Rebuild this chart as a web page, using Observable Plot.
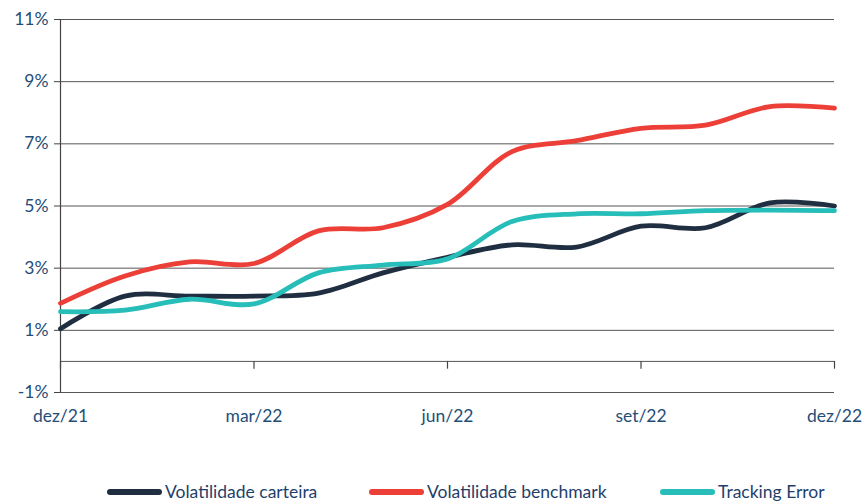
<!DOCTYPE html>
<html>
<head>
<meta charset="utf-8">
<script src="https://cdn.jsdelivr.net/npm/d3@7"></script>
<script src="https://cdn.jsdelivr.net/npm/@observablehq/plot@0.6"></script>
<style>
  body { margin: 0; background: #fff; font-family: Lato, "Open Sans", sans-serif; }
  #chart { width: 863px; }
  .legend { position: relative; height: 62px; font-size: 17.5px; color: #1f3f6b; }
  .item { position: absolute; top: 41px; display: flex; align-items: center; white-space: nowrap; }
  .sw { display: inline-block; width: 55px; height: 6px; border-radius: 3px; margin-right: 3px; }
</style>
</head>
<body>
<div id="chart"></div>
<script>
const months = ["dez/21","jan/22","fev/22","mar/22","abr/22","mai/22","jun/22","jul/22","ago/22","set/22","out/22","nov/22","dez/22"];
const carteira  = [1.05, 2.1, 2.1, 2.1, 2.2, 2.85, 3.35, 3.75, 3.68, 4.35, 4.3, 5.1, 5.0];
const benchmark = [1.87, 2.75, 3.2, 3.15, 4.2, 4.3, 5.05, 6.75, 7.1, 7.5, 7.6, 8.2, 8.15];
const tracking  = [1.6, 1.65, 2.0, 1.85, 2.85, 3.1, 3.3, 4.5, 4.75, 4.75, 4.85, 4.87, 4.85];
const seriesNames = ["Volatilidade carteira", "Volatilidade benchmark", "Tracking Error"];
const colors = ["#1f2e40", "#ec3f37", "#27bdb9"];
const yTicks = [-1, 1, 3, 5, 7, 9, 11];
const xTickIdx = [0, 3, 6, 9, 12];

const seriesVals = [carteira, benchmark, tracking];
const data = [];
seriesVals.forEach((vals, s) => vals.forEach((v, i) => data.push({i, v, s: seriesNames[s]})));

const labelColor = "#1f4e79";
const chart = Plot.plot({
  width: 863,
  height: 440,
  marginTop: 19,
  marginBottom: 48,
  marginLeft: 60,
  marginRight: 29,
  style: { fontFamily: "Lato, 'Open Sans', sans-serif", fontSize: "17.5px", color: labelColor, background: "#fff" },
  x: { type: "linear", domain: [0, 12] },
  y: { domain: [-1, 11] },
  color: { domain: seriesNames, range: colors },
  marks: [
    Plot.ruleY(yTicks, { stroke: "#555", strokeWidth: 1 }),
    Plot.ruleY([0], { stroke: "#555", strokeWidth: 1 }),
    Plot.ruleX([0], { stroke: "#444", strokeWidth: 1.2 }),
    Plot.ruleX(xTickIdx, { y1: 0, y2: -0.25, stroke: "#444", strokeWidth: 1.2 }),
    Plot.axisY({ ticks: yTicks, tickSize: 6, tickPadding: 6, stroke: "#444", tickFormat: d => d + "%", fill: labelColor, fontSize: 17.5, label: null }),
    Plot.axisX({ ticks: xTickIdx, tickSize: 0, tickPadding: 17, tickFormat: d => months[d], fill: labelColor, fontSize: 17.5, label: null }),
    Plot.line(data, { x: "i", y: "v", stroke: "s", z: "s", strokeWidth: 4.8, curve: "catmull-rom", strokeLinecap: "round" })
  ]
});
document.getElementById("chart").appendChild(chart);

const legend = document.createElement("div");
legend.className = "legend";
const lefts = [107, 369, 660];
seriesNames.forEach((n, k) => {
  const it = document.createElement("div");
  it.className = "item";
  it.style.left = lefts[k] + "px";
  const sw = document.createElement("span");
  sw.className = "sw";
  sw.style.background = colors[k];
  it.appendChild(sw);
  it.appendChild(document.createTextNode(n));
  legend.appendChild(it);
});
document.getElementById("chart").appendChild(legend);
</script>
</body>
</html>
